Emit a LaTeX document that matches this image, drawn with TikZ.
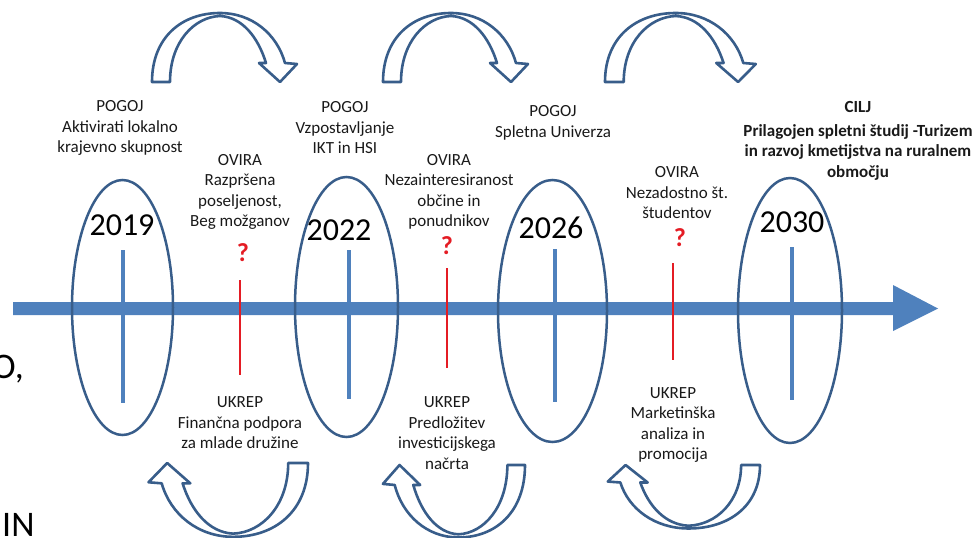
\documentclass[tikz,border=0pt]{standalone}
\usepackage{fontspec}
\setmainfont{Carlito}
\usepackage{tikz}
\usepackage{xcolor}
\usetikzlibrary{
    shapes.geometric,
    positioning
}
\definecolor{barblue}{RGB}{79,129,189}
\definecolor{rimblue}{RGB}{56,93,138}
\definecolor{markred}{RGB}{228,28,36}
\definecolor{ink}{RGB}{25,25,25}

\tikzset{
    pics/bendarrow/.style={code={
        \draw[rimblue, line width=2.6pt, fill=white, line join=round]
        (0,0) .. controls (0,-45) and (30,-69) .. (68,-69)
        .. controls (100,-69) and (125,-48) .. (133,-19)
        -- (145,-18) -- (128,0) -- (107,-19) -- (114,-19)
        .. controls (106,-45) and (90,-65) .. (68,-66)
        .. controls (42,-65) and (18,-40) .. (18,0) -- cycle;
    }}
}

\begin{document}
\begin{tikzpicture}[x=1pt, y=-1pt,
    txt/.style={align=center, inner sep=0pt, text=ink, font=\fontsize{17}{20.5}\selectfont},
    year/.style={inner sep=0pt, text=black, font=\fontsize{32}{38}\selectfont},
    oval/.style={ellipse, draw=rimblue, line width=2.5pt, inner sep=0pt},
    tick/.style={barblue, line width=3.5pt},
    redtick/.style={markred, line width=1.2pt},
    qmark/.style={inner sep=0pt, text=markred, font=\fontsize{26}{26}\selectfont\bfseries}]
    \useasboundingbox (0,0) rectangle (978,538);
    \clip (0,0) rectangle (978,538);

    % time line
    \fill[barblue] (13,302) -- (893,302) -- (893,285) -- (938,308.5)
        -- (893,331) -- (893,315) -- (13,315) -- cycle;
    \draw[tick] (123,250) -- (123,403);
    \draw[tick] (349,250) -- (349,399);
    \draw[tick] (555,249) -- (555,402);
    \draw[tick] (792,247) -- (792,400);
    \draw[redtick] (240,280) -- (240,375);
    \draw[redtick] (447,268) -- (447,368);
    \draw[redtick] (673,263) -- (673,360);

    % years
    \node[oval, minimum width=101pt, minimum height=255pt] (e2019) at (122.5,307.5) {};
    \node[oval, minimum width=103pt, minimum height=260pt] (e2022) at (346.5,307) {};
    \node[oval, minimum width=109pt, minimum height=262pt] (e2026) at (552.5,311) {};
    \node[oval, minimum width=104pt, minimum height=265pt] (e2030) at (790,310.5) {};
    \node[year] (y2019) at (122,225) {2019};
    \node[year] (y2022) at (339,230) {2022};
    \node[year] (y2026) at (551,228) {2026};
    \node[year] (y2030) at (792,222) {2030};

    % conditions and obstacles
    \node[txt] (pogoj1) at (120,128) {POGOJ\\ Aktivirati lokalno\\ krajevno skupnost};
    \node[txt] (pogoj2) at (345,128) {POGOJ\\ Vzpostavljanje\\ IKT in HSI};
    \node[txt] (pogoj3) at (553,123) {POGOJ\\ Spletna Univerza};
    \node[txt] (ovira1) at (240,192) {OVIRA\\ Razpršena\\ poseljenost,\\ Beg možganov};
    \node[txt] (ovira2) at (449,192) {OVIRA\\ Nezainteresiranost\\ občine in\\ ponudnikov};
    \node[txt] (ovira3) at (677,193) {OVIRA\\ Nezadostno št.\\ študentov};
    \node[txt, font=\fontsize{17}{20.5}\selectfont\bfseries] (cilj) at (858,141)
        {CILJ\\[3pt] Prilagojen spletni študij -Turizem\\ in razvoj kmetijstva na ruralnem\\ območju};
    \node[qmark] (q1) at (243,253) {?};
    \node[qmark] (q2) at (447,246) {?};
    \node[qmark] (q3) at (680,238) {?};

    % measures
    \node[txt] (ukrep1) at (240,423) {UKREP\\ Finančna podpora\\ za mlade družine};
    \node[txt] (ukrep2) at (447,433) {UKREP\\ Predložitev\\ investicijskega\\ načrta};
    \node[txt] (ukrep3) at (673,425) {UKREP\\ Marketinška\\ analiza in\\ promocija};

    % bent arrows
    \pic at (152,82) {bendarrow};
    \pic at (383,82) {bendarrow};
    \pic[xscale=1.04] at (605,82) {bendarrow};
    \pic[xscale=-1.1, yscale=-1.07] at (308,463) {bendarrow};
    \pic[xscale=-0.98, yscale=-1.05] at (525,465) {bendarrow};
    \pic[xscale=-1.05, yscale=-0.92] at (760,465) {bendarrow};

    % cut slide text
    \node[anchor=base east, inner sep=0pt, font=\fontsize{36}{36}\selectfont] (cuta) at (24,378) {O,};
    \node[anchor=base west, inner sep=0pt, font=\fontsize{36}{36}\selectfont] (cutb) at (2,536) {IN};
\end{tikzpicture}
\end{document}
